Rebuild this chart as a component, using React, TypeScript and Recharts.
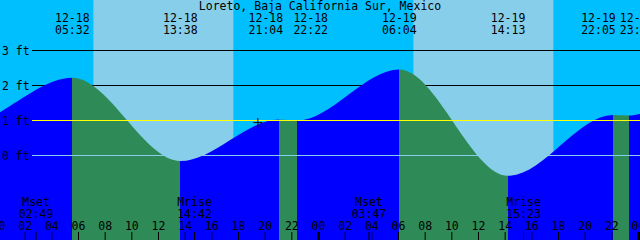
import React from "react";
import {
  ComposedChart,
  Area,
  XAxis,
  YAxis,
  ReferenceArea,
  ReferenceLine,
  ReferenceDot,
} from "recharts";

const title = "Loreto, Baja California Sur, Mexico";

// turns of the tide; the 12-17 and 12-20 ones fall outside the window and only shape the ends
const tideDates = ["12-17", "12-17", "12-18", "12-18", "12-18", "12-18", "12-19", "12-19", "12-19", "12-19", "12-20", "12-20"];
const tideTimes = ["20:05", "21:20", "05:32", "13:38", "21:04", "22:22", "06:04", "14:13", "22:05", "23:18", "06:40", "15:00"];
const tideFeet = [0.9, 0.88, 2.22, -0.16, 1.03, 1.0, 2.46, -0.58, 1.16, 1.14, 2.65, -0.9];
// crowded labels get pushed apart (px)
const labelNudge = [0, 0, 0, 0, -13.5, 14, 0, 0, -14.5, 8, 0, 0];

const sunriseTimes = ["12-18 07:07", "12-19 07:07"];
const sunsetTimes = ["12-18 17:37", "12-19 17:37"];

const moonEvents = ["Mset", "Mrise", "Mset", "Mrise"];
const moonTimes = ["12-18 02:49", "12-18 14:42", "12-19 03:47", "12-19 15:23"];

const nowTime = "12-18 19:25";
const nowFeet = 0.94;

const footTicks = [0, 1, 2, 3];
const hourTicks = [0, 2, 4, 6, 8, 10, 12, 14, 16, 18, 20, 22, 24, 26, 28, 30, 32, 34, 36, 38, 40, 42, 44, 46, 48];

const X_DOMAIN = [0.1125, 48.1125];
const Y_DOMAIN = [-2.414, 4.443];
const GRID_START = 2.51; // level lines begin right of the "ft" labels

const NIGHT = "#00bfff";
const DAY = "#87ceeb";
const FLOOD = "#0000ff";
const EBB = "#2e8b57";
const FONT = "'DejaVu Sans Mono', monospace";
const FS = 11.5;

const toHours = (stamp: string) => {
  const [d, hm] = stamp.split(" ");
  const day = Number(d.split("-")[1]);
  const [h, m] = hm.split(":").map(Number);
  return (day - 18) * 24 + h + m / 60;
};

const txt = { fontFamily: FONT, fontSize: FS, fill: "#000" };

export default function App() {
  const tides = tideTimes.map((tm, i) => ({
    t: toHours(`${tideDates[i]} ${tm}`),
    h: tideFeet[i],
    date: tideDates[i],
    time: tm,
    nudge: labelNudge[i],
  }));
  const t0 = tides[0].t;
  const tN = tides[tides.length - 1].t;
  // rising water blue, falling water green
  const stops = tides.slice(1).flatMap((p, i) => {
    const prev = tides[i];
    const c = p.h > prev.h ? FLOOD : EBB;
    return [
      { o: (prev.t - t0) / (tN - t0), c },
      { o: (p.t - t0) / (tN - t0), c },
    ];
  });
  const shown = tides.filter((p) => p.t >= X_DOMAIN[0] && p.t <= X_DOMAIN[1]);

  const moon = moonTimes.map((s, i) => ({ t: toHours(s), kind: moonEvents[i], time: s.split(" ")[1] }));
  const moonHours = moon.map((m) => m.t);
  const xTicks = [...hourTicks, ...moonHours].sort((a, b) => a - b);

  const days = sunriseTimes.map((s, i) => ({ from: toHours(s), to: toHours(sunsetTimes[i]) }));

  const HourTick = (props: any) => {
    const { x, y, payload } = props;
    const v = payload.value;
    const isMoon = moonHours.includes(v);
    const midnight = !isMoon && v % 24 === 0;
    return (
      <g>
        <line x1={x} x2={x} y1={y + 2} y2={y + 10} stroke="#000" strokeWidth={midnight ? 3 : 1} />
        {!isMoon && (
          <text x={x} y={y} textAnchor="middle" style={txt}>
            {String(v % 24).padStart(2, "0")}
          </text>
        )}
      </g>
    );
  };

  return (
    <div style={{ position: "relative", width: 640, height: 240, background: NIGHT, overflow: "hidden" }}>
      <style>{"body{margin:0}"}</style>
      <ComposedChart width={640} height={240} data={tides} margin={{ top: 0, right: 0, bottom: 0, left: 0 }}>
        <defs>
          <linearGradient id="tideFill" x1="0" y1="0" x2="1" y2="0">
            {stops.map((s, i) => (
              <stop key={i} offset={s.o} stopColor={s.c} />
            ))}
          </linearGradient>
        </defs>
        {days.map((d, i) => (
          <ReferenceArea key={i} x1={d.from} x2={d.to} fill={DAY} fillOpacity={1} stroke="none" zIndex={-300} />
        ))}
        {[3, 2].map((f) => (
          <ReferenceLine
            key={f}
            segment={[{ x: GRID_START, y: f }, { x: X_DOMAIN[1], y: f }]}
            stroke="#000"
            strokeWidth={1}
            zIndex={-200}
          />
        ))}
        <Area
          type="monotone"
          dataKey="h"
          stroke="none"
          fill="url(#tideFill)"
          fillOpacity={1}
          baseValue="dataMin"
          dot={false}
          activeDot={false}
          isAnimationActive={false}
        />
        <ReferenceLine
          segment={[{ x: GRID_START, y: 1 }, { x: X_DOMAIN[1], y: 1 }]}
          stroke="#ffff00"
          strokeWidth={1}
          zIndex={400}
        />
        <ReferenceLine
          segment={[{ x: GRID_START, y: 0 }, { x: X_DOMAIN[1], y: 0 }]}
          stroke={DAY}
          strokeWidth={1}
          zIndex={400}
        />
        <XAxis
          type="number"
          dataKey="t"
          domain={X_DOMAIN}
          allowDataOverflow
          ticks={xTicks}
          interval={0}
          mirror
          axisLine={false}
          tickLine={false}
          tickSize={8}
          tickMargin={2}
          tick={HourTick}
        />
        <YAxis
          type="number"
          domain={Y_DOMAIN}
          allowDataOverflow
          ticks={footTicks}
          interval={0}
          mirror
          axisLine={false}
          tickLine={false}
          tickSize={0}
          tickMargin={2}
          tickFormatter={(v: number) => `${v} ft`}
          tick={txt}
        />
        {shown.map((p, i) => (
          <ReferenceDot
            key={`tl${i}`}
            x={p.t}
            y={0}
            r={0}
            shape={(s: any) => (
              <g>
                <text x={s.cx + p.nudge} y={22} textAnchor="middle" style={txt}>
                  {p.date}
                </text>
                <text x={s.cx + p.nudge} y={34} textAnchor="middle" style={txt}>
                  {p.time}
                </text>
              </g>
            )}
          />
        ))}
        {moon.map((m, i) => (
          <ReferenceDot
            key={`m${i}`}
            x={m.t}
            y={0}
            r={0}
            shape={(s: any) => (
              <g>
                <text x={s.cx} y={206} textAnchor="middle" style={txt}>
                  {m.kind}
                </text>
                <text x={s.cx} y={218} textAnchor="middle" style={txt}>
                  {m.time}
                </text>
              </g>
            )}
          />
        ))}
        <ReferenceDot
          x={toHours(nowTime)}
          y={nowFeet}
          r={0}
          shape={(s: any) => (
            <path
              d={`M${s.cx - 4},${s.cy}h9M${s.cx + 0.5},${s.cy - 4.5}v9`}
              stroke="#000"
              strokeWidth={1}
              fill="none"
            />
          )}
        />
      </ComposedChart>
      <div
        style={{
          position: "absolute",
          left: 0,
          top: 0,
          width: 640,
          textAlign: "center",
          fontFamily: FONT,
          fontSize: FS,
          lineHeight: "12px",
          color: "#000",
          pointerEvents: "none",
        }}
      >
        {title}
      </div>
    </div>
  );
}
